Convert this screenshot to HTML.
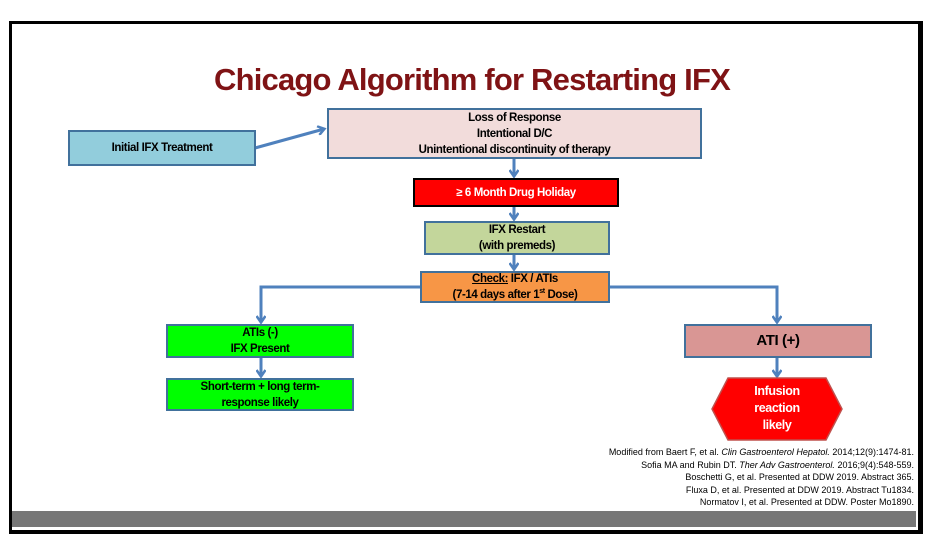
<!DOCTYPE html>
<html><head><meta charset="utf-8"><style>
body{margin:0;width:944px;height:548px;background:#fff;position:relative;overflow:hidden;font-family:"Liberation Sans",sans-serif;}
.frame{position:absolute;left:9px;top:21px;width:906px;height:506px;border:3px solid #000;border-right-width:5px;border-bottom-width:4px;}
.bar{position:absolute;left:12px;top:511px;width:904px;height:16px;background:#777;}
.b{position:absolute;box-sizing:border-box;border:2px solid #41719c;display:flex;align-items:center;justify-content:center;text-align:center;font-weight:bold;font-size:11.5px;letter-spacing:-0.4px;line-height:16px;color:#000;}
h1{position:absolute;left:0;width:944px;top:62px;margin:0;text-align:center;color:#7f1315;font-size:31px;font-weight:bold;letter-spacing:-0.8px;}
.ref{position:absolute;right:30px;top:446px;font-family:"Liberation Sans",sans-serif;font-size:9px;line-height:12.5px;text-align:right;color:#000;}
</style></head><body>
<div class="frame"></div>
<div class="bar"></div>
<h1>Chicago Algorithm for Restarting IFX</h1>
<svg width="944" height="548" style="position:absolute;left:0;top:0">
<defs><marker id="a" markerWidth="10" markerHeight="10" refX="7" refY="5" orient="auto" markerUnits="userSpaceOnUse"><path d="M1,0.5 L7.5,5 L1,9.5" fill="none" stroke="#4f81bd" stroke-width="2.5"/></marker></defs>
<g stroke="#4f81bd" stroke-width="3" fill="none" marker-end="url(#a)">
<line x1="255" y1="148" x2="324" y2="129"/>
<line x1="514" y1="158" x2="514" y2="176"/>
<line x1="514" y1="206" x2="514" y2="219"/>
<line x1="514" y1="254" x2="514" y2="269"/>
<polyline points="421,287 261,287 261,322"/>
<polyline points="609,287 777,287 777,322"/>
<line x1="261" y1="357" x2="261" y2="376"/>
<line x1="777" y1="357" x2="777" y2="376"/>
</g>
<polygon points="728,378 826,378 842,409 826,440 728,440 712,409" fill="#ff0000" stroke="#c0504d" stroke-width="1.5"/>
</svg>
<div class="b" style="left:68px;top:130px;width:188px;height:36px;background:#92cddc;">Initial IFX Treatment</div>
<div class="b" style="left:327px;top:108px;width:375px;height:51px;background:#f2dcdb;">Loss of Response<br>Intentional D/C<br>Unintentional discontinuity of therapy</div>
<div class="b" style="left:413px;top:178px;width:206px;height:29px;background:#ff0000;color:#fff;border-color:#000;">≥ 6 Month Drug Holiday</div>
<div class="b" style="left:424px;top:221px;width:186px;height:34px;background:#c3d69b;">IFX Restart<br>(with premeds)</div>
<div class="b" style="left:420px;top:271px;width:190px;height:32px;background:#f79646;"><div><u>Check:</u> IFX / ATIs<br>(7-14 days after 1<sup style="font-size:7px;line-height:0">st</sup> Dose)</div></div>
<div class="b" style="left:166px;top:324px;width:188px;height:34px;background:#00ff00;">ATIs (-)<br>IFX Present</div>
<div class="b" style="left:166px;top:378px;width:188px;height:33px;background:#00ff00;">Short-term + long term-<br>response likely</div>
<div class="b" style="left:684px;top:324px;width:188px;height:34px;background:#d99694;font-size:15px;">ATI (+)</div>
<div style="position:absolute;left:712px;top:383px;width:130px;text-align:center;color:#fff;font-weight:bold;font-size:12.5px;letter-spacing:-0.4px;line-height:17px;">Infusion<br>reaction<br>likely</div>
<div class="ref">Modified from Baert F, et al. <i>Clin Gastroenterol Hepatol.</i> 2014;12(9):1474-81.<br>Sofia MA and Rubin DT. <i>Ther Adv Gastroenterol.</i> 2016;9(4):548-559.<br>Boschetti G, et al. Presented at DDW 2019. Abstract 365.<br>Fluxa D, et al. Presented at DDW 2019. Abstract Tu1834.<br>Normatov I, et al. Presented at DDW. Poster Mo1890.</div>
</body></html>
